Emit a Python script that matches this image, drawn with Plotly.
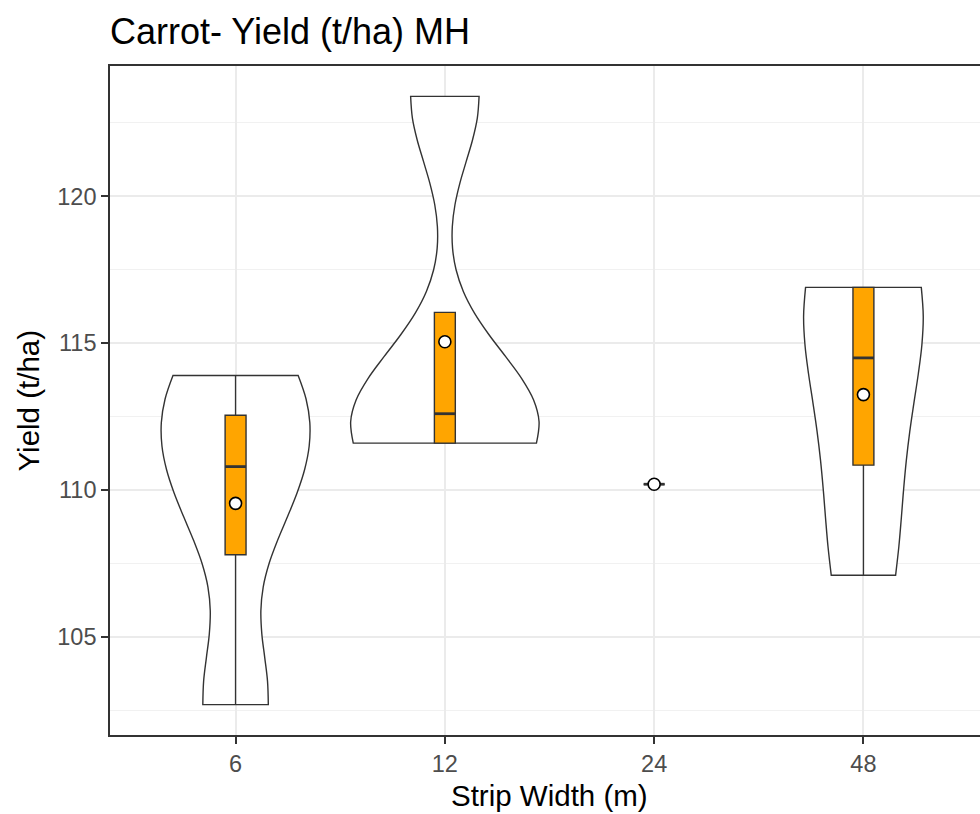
import numpy as np
import plotly.graph_objects as go

# Carrot yield (t/ha) by strip width, MH site
strip_widths = ["6", "12", "24", "48"]
yield_6 = [102.7, 109.5, 112.1, 113.9]
yield_12 = [111.6, 111.6, 113.6, 123.4]
yield_24 = [110.2]
yield_48 = [107.1, 112.1, 116.9, 116.9]
groups = [yield_6, yield_12, yield_24, yield_48]

y_ticks = [105, 110, 115, 120]

BOX_WIDTH = 0.1
VIOLIN_WIDTH = 0.9
ORANGE = "#FFA500"
INK = "#333333"
FONT = "Liberation Sans, Arial, sans-serif"


def bw_nrd0(v):
    v = np.asarray(v, float)
    q1, q3 = np.percentile(v, [25, 75])
    lo = min(v.std(ddof=1), (q3 - q1) / 1.34)
    return 0.9 * lo * len(v) ** -0.2


def kde_peak(v):
    """Peak of the Gaussian density over the trimmed data range."""
    v = np.asarray(v, float)
    bw = bw_nrd0(v)
    grid = np.linspace(v.min(), v.max(), 512)
    dens = np.exp(-0.5 * ((grid[:, None] - v[None, :]) / bw) ** 2).sum(1)
    return (dens / (len(v) * bw * np.sqrt(2 * np.pi))).max()


def box_stats(v):
    v = np.asarray(v, float)
    q1, med, q3 = np.percentile(v, [25, 50, 75])
    iqr = q3 - q1
    inside = v[(v >= q1 - 1.5 * iqr) & (v <= q3 + 1.5 * iqr)]
    return q1, med, q3, min(q1, inside.min()), max(q3, inside.max())


fig = go.Figure()
positions = list(range(len(strip_widths)))

# violins scaled to equal area (density needs at least two observations)
violin_groups = [(p, v) for p, v in zip(positions, groups) if len(v) >= 2]
peaks = {p: kde_peak(v) for p, v in violin_groups}
top_peak = max(peaks.values())
for pos, vals in violin_groups:
    fig.add_trace(go.Violin(
        x=[pos] * len(vals), y=vals,
        bandwidth=bw_nrd0(vals), spanmode="hard",
        scalemode="width", width=VIOLIN_WIDTH * peaks[pos] / top_peak,
        fillcolor="white", line=dict(color=INK, width=1.4),
        points=False, box_visible=False, meanline_visible=False,
        showlegend=False, hoverinfo="skip",
    ))

# boxplots
for pos, vals in zip(positions, groups):
    q1, med, q3, lo, hi = box_stats(vals)
    fig.add_trace(go.Box(
        x=[pos], q1=[q1], median=[med], q3=[q3],
        lowerfence=[lo], upperfence=[hi],
        width=BOX_WIDTH, whiskerwidth=0,
        fillcolor=ORANGE, line=dict(color=INK, width=1.4),
        showlegend=False, hoverinfo="skip",
    ))
    # heavier median bar
    fig.add_trace(go.Scatter(
        x=[pos - BOX_WIDTH / 2, pos + BOX_WIDTH / 2], y=[med, med],
        mode="lines", line=dict(color=INK, width=2.8),
        showlegend=False, hoverinfo="skip",
    ))

# group means
fig.add_trace(go.Scatter(
    x=positions, y=[float(np.mean(v)) for v in groups],
    mode="markers",
    marker=dict(symbol="circle", size=12, color="white",
                line=dict(color="black", width=1.6)),
    showlegend=False, hoverinfo="skip",
))

all_vals = np.concatenate([np.asarray(v, float) for v in groups])
span = all_vals.max() - all_vals.min()
y_range = [all_vals.min() - 0.05 * span, all_vals.max() + 0.05 * span]

fig.update_layout(
    width=980, height=814,
    margin=dict(l=110, r=0, t=66, b=79),
    paper_bgcolor="white", plot_bgcolor="white",
    boxmode="overlay", violinmode="overlay",
    title=dict(text="Carrot- Yield (t/ha) MH", x=110 / 980, xanchor="left",
               y=1 - 31 / 814, yanchor="middle",
               font=dict(family=FONT, size=36, color="black")),
    font=dict(family=FONT),
    xaxis=dict(
        range=[-0.6, 3.557], tickmode="array", tickvals=positions,
        ticktext=strip_widths, showgrid=True, gridcolor="#EBEBEB",
        gridwidth=1.6, zeroline=False, showline=True, mirror=True,
        linecolor=INK, linewidth=1.6, ticks="outside", ticklen=7,
        tickwidth=1.5, tickcolor=INK,
        tickfont=dict(family=FONT, size=23.5, color="#4D4D4D"),
    ),
    yaxis=dict(
        range=y_range, tickmode="array", tickvals=y_ticks,
        showgrid=True, gridcolor="#EBEBEB", gridwidth=1.6,
        zeroline=False, showline=True, linecolor=INK, linewidth=1.6,
        ticks="outside", ticklen=7, tickwidth=1.5, tickcolor=INK,
        tickfont=dict(family=FONT, size=23.5, color="#4D4D4D"),
        minor=dict(tick0=0, dtick=2.5, showgrid=True, gridcolor="#F1F1F1",
                   gridwidth=1, ticks=""),
    ),
    annotations=[
        dict(text="Strip Width (m)", xref="paper", yref="paper",
             x=(549 - 110) / 870, y=(735 - 796) / 669,
             xanchor="center", yanchor="middle", showarrow=False,
             font=dict(family=FONT, size=29.5, color="black")),
        dict(text="Yield (t/ha)", xref="paper", yref="paper",
             x=(28 - 110) / 870, y=0.5, textangle=-90,
             xanchor="center", yanchor="middle", showarrow=False,
             font=dict(family=FONT, size=29.5, color="black")),
    ],
)

fig.write_html("out.html")
